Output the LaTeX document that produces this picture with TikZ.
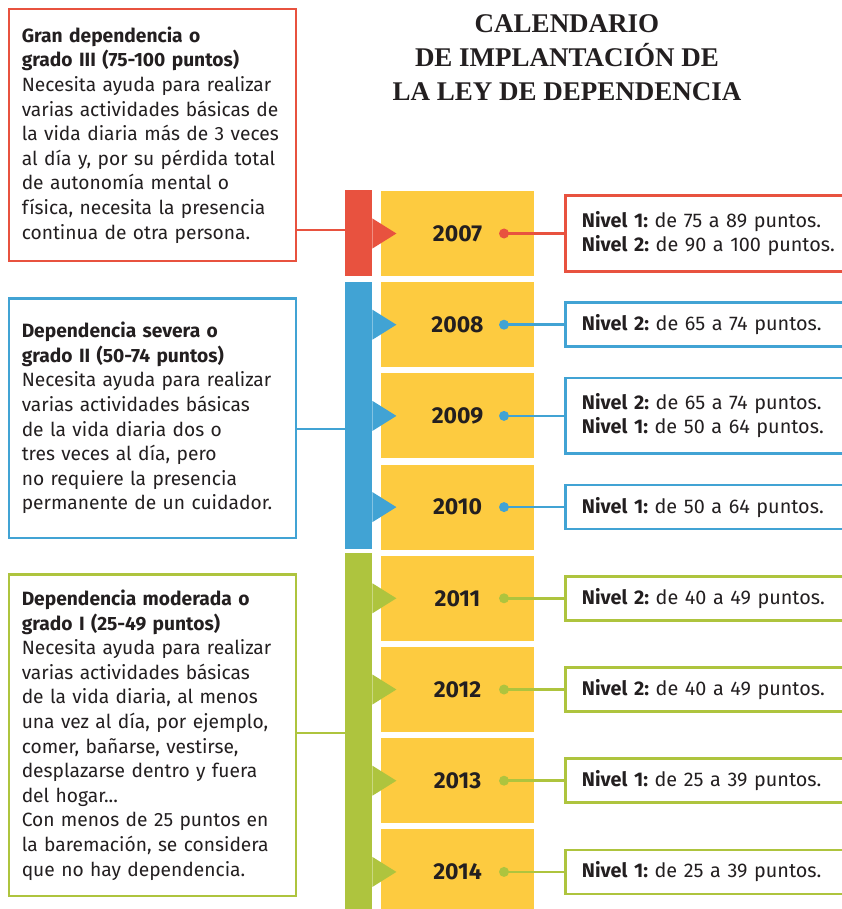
\documentclass[tikz,border=0pt]{standalone}
\usepackage{fontspec}
\setmainfont{Fira Sans}
\newfontfamily\titlefont{Liberation Serif}
\usetikzlibrary{positioning}
\definecolor{rojo}{HTML}{E8523F}
\definecolor{azul}{HTML}{41A3D4}
\definecolor{verde}{HTML}{AEC43E}
\definecolor{amarillo}{HTML}{FDCB40}
\definecolor{tinta}{HTML}{231F20}
\newcommand{\mylinew}{2.5pt}
\tikzset{
    node style year/.style={fill=amarillo,minimum width=153pt,minimum height=85pt,inner sep=0pt,%
        text=tinta,font=\fontsize{23}{27}\selectfont\bfseries},
    node style bar/.style={minimum width=27pt,inner sep=0pt,anchor=north west},
    node style grado/.style={draw,line width=\mylinew,minimum width=287pt,text width=261.5pt,%
        inner sep=0pt,align=left,text=tinta,font=\fontsize{19.2}{24.6}\selectfont},
    node style nivel/.style={draw,line width=\mylinew,right=30pt of #1,text width=270pt,%
        inner xsep=16.5pt,inner ysep=0pt,align=left,text=tinta,font=\fontsize{19.8}{24}\selectfont},
    arrow style link/.style={line width=\mylinew},
}

\begin{document}
\frenchspacing
\begin{tikzpicture}[x=1pt,y=-1pt]
\clip (0,0) rectangle (842,909);
\fill[white] (0,0) rectangle (842,909);
% le titre
\node [align=center,text=tinta,font=\titlefont\bfseries\fontsize{27}{34}\selectfont] (titulo) at (567,58)
    {CALENDARIO\\DE IMPLANTACIÓN DE\\LA LEY DE DEPENDENCIA};
% les années
\node [node style year] (y2007) at (457.5,233.5) {2007};
\node [node style year,below=5.8pt of y2007] (y2008) {2008};
\node [node style year,below=5.8pt of y2008] (y2009) {2009};
\node [node style year,below=5.8pt of y2009] (y2010) {2010};
\node [node style year,below=5.8pt of y2010] (y2011) {2011};
\node [node style year,below=5.8pt of y2011] (y2012) {2012};
\node [node style year,below=5.8pt of y2012] (y2013) {2013};
\node [node style year,below=5.8pt of y2013] (y2014) {2014};
% les barres
\node [node style bar,fill=rojo,minimum height=86pt] (bar3) at (345,190) {};
\node [node style bar,fill=azul,minimum height=267pt] (bar2) at (345,282) {};
\node [node style bar,fill=verde,minimum height=360pt] (bar1) at (345,553) {};
% les flèches
\fill [rojo] (bar3.east |- y2007) ++(0,-15) -- ++(24,15) -- ++(-24,15) -- cycle;
\fill [azul] (bar2.east |- y2008) ++(0,-15) -- ++(24,15) -- ++(-24,15) -- cycle;
\fill [azul] (bar2.east |- y2009) ++(0,-15) -- ++(24,15) -- ++(-24,15) -- cycle;
\fill [azul] (bar2.east |- y2010) ++(0,-15) -- ++(24,15) -- ++(-24,15) -- cycle;
\fill [verde] (bar1.east |- y2011) ++(0,-15) -- ++(24,15) -- ++(-24,15) -- cycle;
\fill [verde] (bar1.east |- y2012) ++(0,-15) -- ++(24,15) -- ++(-24,15) -- cycle;
\fill [verde] (bar1.east |- y2013) ++(0,-15) -- ++(24,15) -- ++(-24,15) -- cycle;
\fill [verde] (bar1.east |- y2014) ++(0,-15) -- ++(24,15) -- ++(-24,15) -- cycle;
% les grades
\node [node style grado,draw=rojo,minimum height=251.5pt] (g3) at (152.5,135)
    {\textbf{Gran dependencia o}\\
     \textbf{grado III (75-100 puntos)}\\
     Necesita ayuda para realizar\\
     varias actividades básicas de\\
     la vida diaria más de 3 veces\\
     al día y, por su pérdida total\\
     de autonomía mental o\\
     física, necesita la presencia\\
     continua de otra persona.};
\node [node style grado,draw=azul,minimum height=239.5pt] (g2) at (152.5,418)
    {\textbf{Dependencia severa o}\\
     \textbf{grado II (50-74 puntos)}\\
     Necesita ayuda para realizar\\
     varias actividades básicas\\
     de la vida diaria dos o\\
     tres veces al día, pero\\
     no requiere la presencia\\
     permanente de un cuidador.};
\node [node style grado,draw=verde,minimum height=321.5pt] (g1) at (152.5,735)
    {\textbf{Dependencia moderada o}\\
     \textbf{grado I (25-49 puntos)}\\
     Necesita ayuda para realizar\\
     varias actividades básicas\\
     de la vida diaria, al menos\\
     una vez al día, por ejemplo,\\
     comer, bañarse, vestirse,\\
     desplazarse dentro y fuera\\
     del hogar...\\
     Con menos de 25 puntos en\\
     la baremación, se considera\\
     que no hay dependencia.};
\coordinate (c3) at (0,230);
\coordinate (c2) at (0,429);
\coordinate (c1) at (0,733);
\draw [arrow style link,rojo] (g3.east |- c3) -- (bar3.west |- c3);
\draw [arrow style link,azul] (g2.east |- c2) -- (bar2.west |- c2);
\draw [arrow style link,verde] (g1.east |- c1) -- (bar1.west |- c1);
% les niveaux
\node [node style nivel=y2007,draw=rojo,minimum height=75.5pt] (n2007)
    {\textbf{Nivel 1:} de 75 a 89 puntos.\\\textbf{Nivel 2:} de 90 a 100 puntos.};
\node [node style nivel=y2008,draw=azul,minimum height=44pt] (n2008)
    {\textbf{Nivel 2:} de 65 a 74 puntos.};
\node [node style nivel=y2009,draw=azul,minimum height=75.5pt] (n2009)
    {\textbf{Nivel 2:} de 65 a 74 puntos.\\\textbf{Nivel 1:} de 50 a 64 puntos.};
\node [node style nivel=y2010,draw=azul,minimum height=44pt] (n2010)
    {\textbf{Nivel 1:} de 50 a 64 puntos.};
\node [node style nivel=y2011,draw=verde,minimum height=44pt] (n2011)
    {\textbf{Nivel 2:} de 40 a 49 puntos.};
\node [node style nivel=y2012,draw=verde,minimum height=44pt] (n2012)
    {\textbf{Nivel 2:} de 40 a 49 puntos.};
\node [node style nivel=y2013,draw=verde,minimum height=44pt] (n2013)
    {\textbf{Nivel 1:} de 25 a 39 puntos.};
\node [node style nivel=y2014,draw=verde,minimum height=44pt] (n2014)
    {\textbf{Nivel 1:} de 25 a 39 puntos.};
% les points
\coordinate (d2007) at ([xshift=46.5pt]y2007.center);
\coordinate (d2008) at ([xshift=46.5pt]y2008.center);
\coordinate (d2009) at ([xshift=46.5pt]y2009.center);
\coordinate (d2010) at ([xshift=46.5pt]y2010.center);
\coordinate (d2011) at ([xshift=46.5pt]y2011.center);
\coordinate (d2012) at ([xshift=46.5pt]y2012.center);
\coordinate (d2013) at ([xshift=46.5pt]y2013.center);
\coordinate (d2014) at ([xshift=46.5pt]y2014.center);
\draw [arrow style link,rojo] (d2007) -- (n2007);
\draw [arrow style link,azul] (d2008) -- (n2008);
\draw [arrow style link,azul] (d2009) -- (n2009);
\draw [arrow style link,azul] (d2010) -- (n2010);
\draw [arrow style link,verde] (d2011) -- (n2011);
\draw [arrow style link,verde] (d2012) -- (n2012);
\draw [arrow style link,verde] (d2013) -- (n2013);
\draw [arrow style link,verde] (d2014) -- (n2014);
\fill [rojo] (d2007) circle (5pt);
\fill [azul] (d2008) circle (5pt);
\fill [azul] (d2009) circle (5pt);
\fill [azul] (d2010) circle (5pt);
\fill [verde] (d2011) circle (5pt);
\fill [verde] (d2012) circle (5pt);
\fill [verde] (d2013) circle (5pt);
\fill [verde] (d2014) circle (5pt);
\end{tikzpicture}
\end{document}
